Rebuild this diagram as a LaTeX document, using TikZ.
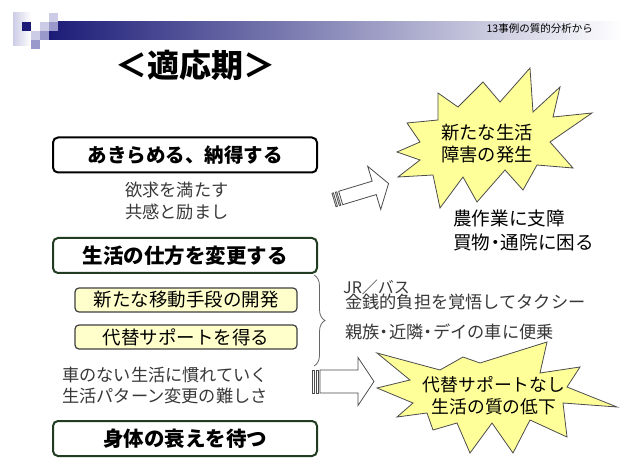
\documentclass[tikz,border=0pt]{standalone}
\usepackage{fontspec}
\newfontfamily\jp{Noto Sans CJK JP}
\usetikzlibrary{decorations.pathreplacing}
\definecolor{navy}{HTML}{1C1C78}
\definecolor{lavmed}{HTML}{9999CC}
\definecolor{lavlight}{HTML}{CCCCE6}
\definecolor{dkgreen}{HTML}{213D21}
\definecolor{paleyel}{HTML}{FFFFCC}
\definecolor{staryel}{HTML}{FFFF99}
\definecolor{txtgray}{HTML}{383838}
\newcommand{\fs}[1]{\fontsize{#1}{#1}\selectfont}
\newcommand{\nd}{\kern-0.22em・\kern-0.22em}
\tikzset{
  mainbox/.style={draw, line width=2pt, rounded corners=5pt, minimum width=264pt,
    minimum height=35pt, inner sep=0pt, font=\jp\bfseries\fs{20.5}},
  subbox/.style={draw=black!75, fill=paleyel, line width=1.2pt, rounded corners=4pt,
    minimum width=222pt, minimum height=24pt, inner sep=0pt, font=\jp\fs{18.5}},
  graytxt/.style={anchor=west, inner sep=0pt, text=txtgray, font=\jp\fs{17.2}},
  blacktxt/.style={anchor=west, inner sep=0pt, text=black, font=\jp\fs{18.6}},
  startxt/.style={inner sep=0pt, align=center, font=\jp\fs{18.3}},
  arrowline/.style={draw=black!70, fill=white, line width=0.8pt},
  starline/.style={draw=black!70, fill=staryel, line width=0.8pt, line join=miter},
}
\begin{document}
\begin{tikzpicture}[x=1pt,y=-1pt]
\useasboundingbox[fill=white] (0,0) rectangle (637,470);
% header
\shade[left color=navy, right color=white] (49,22) rectangle (622,40);
\shade[left color=lavlight, right color=white] (13,13) rectangle (31,46);
\fill[navy] (22,22) rectangle (31,31);
\fill[lavlight] (49,13) rectangle (58,22);
\fill[lavlight] (40,22) rectangle (49,31);
\fill[lavmed] (49,22) rectangle (58,31);
\fill[lavlight] (31,31) rectangle (40,40);
\fill[lavmed] (40,31) rectangle (49,40);
\fill[lavmed] (31,40) rectangle (40,49);
\node[anchor=east, inner sep=0pt, font=\jp\fs{10.5}] (hdr) at (593,29) {13事例の質的分析から};
\node[inner sep=0pt, font=\jp\bfseries\fs{32}] (title) at (195,65) {＜適応期＞};
% left boxes
\node[mainbox, draw=black, font=\jp\bfseries\fs{19.5}] (b1) at (185,155) {あきらめる、納得する};
\node[graytxt] (t1) at (125,190) {欲求を満たす};
\node[graytxt] (t2) at (125,212) {共感と励まし};
\node[mainbox, draw=dkgreen] (b2) at (185,255.5) {生活の仕方を変更する};
\node[subbox] (s1) at (186,300) {新たな移動手段の開発};
\node[subbox] (s2) at (186,337) {代替サポートを得る};
\node[graytxt] (t3) at (62,375) {車のない生活に慣れていく};
\node[graytxt] (t4) at (62,396) {生活パターン変更の難しさ};
\node[mainbox, draw=dkgreen] (b3) at (185,438.5) {身体の衰えを待つ};
% brace
\coordinate (brtop) at (314,275);
\coordinate (brbot) at (314,366);
\draw[black!60, line width=0.8pt, decorate, decoration={brace, amplitude=11pt}] (brtop) -- (brbot);
\node[graytxt, font=\jp\fs{16}] (t5) at (343,287) {JR／バス};
\node[graytxt] (t6) at (345,302) {金銭的負担を覚悟してタクシー};
\node[graytxt] (t7) at (345,332) {親族\nd 近隣\nd デイの車に便乗};
% arrow 1
\begin{scope}[shift={(334,200)}, rotate=16.8]
  \draw[arrowline] (0,-7) rectangle (1.5,7);
  \draw[arrowline] (3.5,-7) rectangle (5,7);
  \draw[arrowline] (7,-7) -- (42,-7) -- (42,-22.5) -- (57,0) -- (42,22.5) -- (42,7) -- (7,7) -- cycle;
\end{scope}
% arrow 2
\begin{scope}[shift={(312,381.5)}]
  \draw[arrowline] (0,-11.5) rectangle (2,11.5);
  \draw[arrowline] (4,-11.5) rectangle (6,11.5);
  \draw[arrowline] (8,-11.5) -- (46,-11.5) -- (46,-24) -- (62,0) -- (46,24) -- (46,11.5) -- (8,11.5) -- cycle;
\end{scope}
% starburst 1
\draw[starline] (438,93) -- (458,107) -- (483,82) -- (500,102) -- (530,68) -- (533,112) -- (560,87) -- (553,117) -- (592,113) -- (550,142) -- (573,168) -- (537,165) -- (523,190) -- (505,170) -- (477,202) -- (463,177) -- (440,208) -- (433,175) -- (398,177) -- (420,160) -- (397,152) -- (420,142) -- (407,123) -- (438,120) -- cycle;
\node[startxt] (st1) at (487,143.5) {新たな生活\\[4pt]障害の発生};
\node[blacktxt] (t8) at (453,218) {農作業に支障};
\node[blacktxt] (t9) at (453,242) {買物\nd 通院に困る};
% starburst 2
\draw[starline] (377,353) -- (440,370) -- (463,357) -- (480,363) -- (547,342) -- (540,373) -- (580,367) -- (567,387) -- (617,407) -- (563,403) -- (567,437) -- (530,420) -- (513,453) -- (492,423) -- (470,453) -- (457,423) -- (433,430) -- (427,413) -- (397,417) -- (413,403) -- (377,388) -- (410,380) -- cycle;
\node[startxt, font=\jp\fs{17.8}] (st2) at (494,396) {代替サポートなし\\[4pt]生活の質の低下};
\end{tikzpicture}
\end{document}
